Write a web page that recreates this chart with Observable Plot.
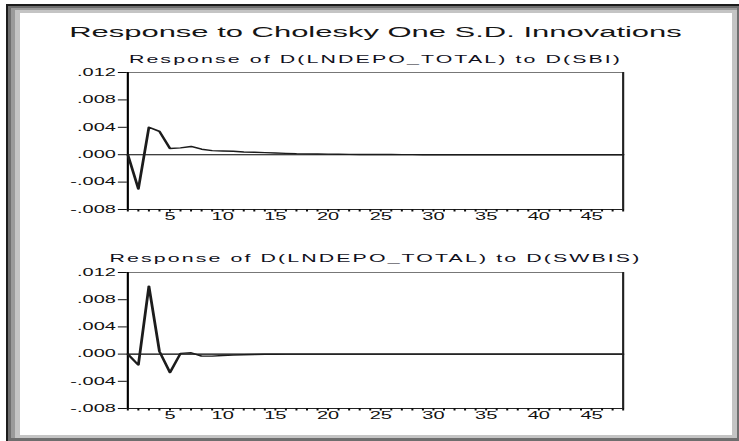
<!DOCTYPE html>
<html>
<head>
<meta charset="utf-8">
<script src="https://cdn.jsdelivr.net/npm/d3@7"></script>
<script src="https://cdn.jsdelivr.net/npm/@observablehq/plot@0.6"></script>
<style>
  html, body { margin: 0; padding: 0; background: #fff; width: 739px; height: 441px; overflow: hidden; }
  body { position: relative; font-family: "Liberation Sans", Arial, sans-serif; }
  .box { position: absolute; }
  #edge-dark  { left: 6px;  top: 4px;  width: 733px; height: 437px; background: #1c1c1c; }
  #edge-mid   { left: 8px;  top: 6px;  width: 731px; height: 435px; background: #6e6e6e; }
  #edge-grey  { left: 11px; top: 8px;  width: 726px; height: 430px; background: #9a9a9a; }
  #edge-light { left: 15px; top: 10px; width: 722px; height: 428px; background: #c4c4c4; }
  #sheet      { left: 20px; top: 13px; width: 712px; height: 422px; background: #fff; }
  /* the EViews export is horizontally stretched: draw at half width, then widen */
  #stretch { position: absolute; left: 0; top: 0; width: 370px; height: 441px;
             transform: scaleX(1.9973); transform-origin: 0 0; }
  .title, .subtitle { position: absolute; left: 3px; width: 370px; text-align: center;
                      white-space: nowrap; color: #151515; }
  .title { top: 23px; font-size: 15.5px; line-height: 17px; }
  .subtitle { font-size: 10.7px; line-height: 12px; letter-spacing: 1.05px; color: #10101c; }
  .chart { position: absolute; left: 0; }
</style>
</head>
<body>
<div class="box" id="edge-dark"></div>
<div class="box" id="edge-mid"></div>
<div class="box" id="edge-grey"></div>
<div class="box" id="edge-light"></div>
<div class="box" id="sheet"></div>
<div id="stretch">
  <div class="title">Response to Cholesky One S.D. Innovations</div>
  <div class="subtitle" id="sub1" style="top:52.5px"></div>
  <div class="chart" id="chart1" style="top:64px"></div>
  <div class="subtitle" id="sub2" style="top:251.5px"></div>
  <div class="chart" id="chart2" style="top:264px"></div>
</div>
<script>
// Impulse responses of D(LNDEPO_TOTAL), periods 1..48
const sbiTitle = "Response of D(LNDEPO_TOTAL) to D(SBI)";
const sbiResponse = [
  0.0000, -0.0050, 0.0040, 0.0034, 0.0009, 0.0010, 0.0012, 0.0008,
  0.0006, 0.00055, 0.0005, 0.0004, 0.00035, 0.0003, 0.00025, 0.0002,
  0.00015, 0.00012, 0.0001, 0.00008, 0.00006, 0.00005, 0.00004, 0.00003,
  0.00002, 0.00002, 0.00001, 0.00001, 0, 0, 0, 0,
  0, 0, 0, 0, 0, 0, 0, 0,
  0, 0, 0, 0, 0, 0, 0, 0
];

const swbisTitle = "Response of D(LNDEPO_TOTAL) to D(SWBIS)";
const swbisResponse = [
  0.0000, -0.0016, 0.0100, 0.0004, -0.0027, 0.0001, 0.0002, -0.0003,
  -0.0003, -0.0002, -0.00015, -0.0001, -0.00005, -0.00003, -0.00002, 0,
  0, 0, 0, 0, 0, 0, 0, 0,
  0, 0, 0, 0, 0, 0, 0, 0,
  0, 0, 0, 0, 0, 0, 0, 0,
  0, 0, 0, 0, 0, 0, 0, 0
];

// Axis ticks
const periodDomain = [1, 48];
const periodTicks = [1, 2, 3, 4, 5, 6, 7, 8, 9, 10, 11, 12, 13, 14, 15, 16, 17, 18, 19, 20,
  21, 22, 23, 24, 25, 26, 27, 28, 29, 30, 31, 32, 33, 34, 35, 36, 37, 38, 39, 40,
  41, 42, 43, 44, 45, 46, 47, 48];
const periodLabels = [5, 10, 15, 20, 25, 30, 35, 40, 45];
const valueDomain = [-0.008, 0.012];
const valueTicks = [-0.008, -0.004, 0, 0.004, 0.008, 0.012];

// EViews-style labels: ".004", "-.008"
const fmtValue = d => (d < 0 ? "-" : "") + Math.abs(d).toFixed(3).slice(1);

function responsePanel(values, marginBottom) {
  const rows = values.map((v, i) => ({period: i + 1, value: v}));
  return Plot.plot({
    width: 370,
    height: 170,
    marginLeft: 63.5,
    marginRight: 58.5,
    marginTop: 8,
    marginBottom,
    x: {domain: periodDomain, label: null},
    y: {domain: valueDomain, label: null},
    style: {fontFamily: "Liberation Sans, Arial, sans-serif", fontSize: "10px", color: "#111", background: "transparent"},
    marks: [
      Plot.frame({stroke: "#777"}),
      Plot.ruleX([periodDomain[0]], {stroke: "#000"}),
      Plot.ruleX([periodDomain[1]], {stroke: "#222"}),
      Plot.ruleY([valueDomain[0]], {stroke: "#222"}),
      Plot.ruleY([0], {stroke: "#000", strokeWidth: 1.1}),
      Plot.axisY({ticks: valueTicks, tickFormat: fmtValue, tickSize: 4.5, tickPadding: 1.5, label: null}),
      Plot.axisX({ticks: periodTicks, tickFormat: () => "", tickSize: 2.5, label: null}),
      Plot.axisX({ticks: periodLabels, tickSize: 0, tickPadding: 3, label: null}),
      Plot.line(rows, {x: "period", y: "value", stroke: "#1c1c1c", strokeWidth: 1.4})
    ]
  });
}

document.getElementById("sub1").textContent = sbiTitle;
document.getElementById("sub2").textContent = swbisTitle;
document.getElementById("chart1").append(responsePanel(sbiResponse, 25));
document.getElementById("chart2").append(responsePanel(swbisResponse, 26));
</script>
</body>
</html>
